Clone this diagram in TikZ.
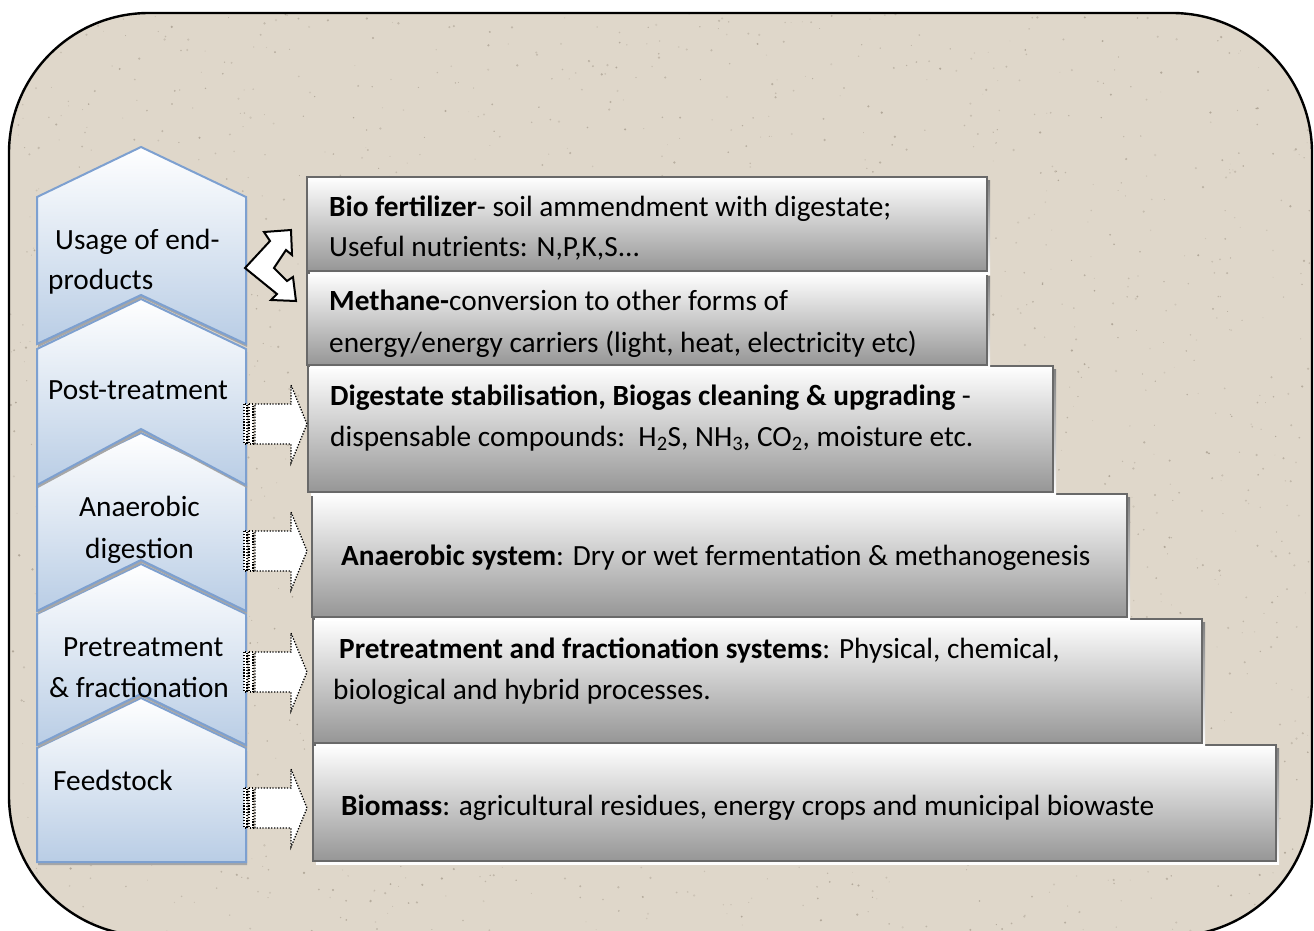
\documentclass[tikz,border=0pt]{standalone}
\usepackage{fontspec}
\setmainfont{Carlito}
\definecolor{stone}{RGB}{223,215,202}
\definecolor{speck}{RGB}{130,118,102}
\definecolor{chevline}{RGB}{125,160,208}
\definecolor{chevblue}{RGB}{185,205,229}
\definecolor{boxgray}{RGB}{150,150,150}
\definecolor{boxline}{RGB}{105,105,105}
\definecolor{shade}{RGB}{175,175,175}
\tikzset{
  txt/.style={inner sep=0pt, anchor=base west, font=\fontsize{29.3}{41}\selectfont},
  chevron/.style={draw=chevline, line width=2pt, line join=miter, top color=white, bottom color=chevblue},
  chevshadow/.style={fill=black!35},
  stepbox/.style={draw=boxline, line width=2.2pt, top color=white, bottom color=boxgray},
  arrowdots/.style={draw=black, fill=white, line width=1.3pt, dash pattern=on 1.3pt off 1.6pt},
  stripedarrow/.pic={
    \path[arrowdots] (0,-20) rectangle (3,20);
    \path[arrowdots] (5,-20) rectangle (9,20);
    \path[arrowdots] (11,-20) -- (47,-20) -- (47,-39) -- (63,0) -- (47,39) -- (47,20) -- (11,20) -- cycle;
  }
}
% grey step box with its drop shadow: {x1}{y1}{x2}{y2}
\newcommand\stepgraybox[4]{%
  \fill[shade] (#1+3,#2+3) rectangle (#3+3,#4+3);
  \path[stepbox] (#1,#2) rectangle (#3,#4);}
% chevron: {apex y}{bottom y}{notch apex y}
\newcommand\chevronshape[3]{%
  \fill[chevshadow] (38,#1+53) -- (142,#1+3) -- (247,#1+53) -- (247,#2+3) -- (142,#3+3) -- (38,#2+3) -- cycle;
  \path[chevron] (37,#1+50) -- (141,#1) -- (246,#1+50) -- (246,#2) -- (141,#3) -- (37,#2) -- cycle;}
\begin{document}
\begin{tikzpicture}[x=1pt,y=-1pt]
\useasboundingbox (0,0) rectangle (1314,931);
\clip (0,0) rectangle (1314,931);
\fill[white] (0,0) rectangle (1314,931);

% stone panel
\fill[stone, rounded corners=140pt] (9,13) rectangle (1312,936);
\begin{scope}
  \clip[rounded corners=140pt] (9,13) rectangle (1312,936);
  \pgfmathsetseed{4217}
  \foreach \i in {1,...,2200}{
    \pgfmathsetmacro\px{10+rnd*1300}
    \pgfmathsetmacro\py{14+rnd*920}
    \pgfmathsetmacro\pr{0.4+rnd*0.9}
    \pgfmathsetmacro\po{0.15+rnd*0.35}
    \fill[speck, opacity=\po] (\px,\py) circle (\pr);
  }
\end{scope}
\draw[black, line width=2.4pt, rounded corners=140pt] (9,13) rectangle (1312,936);

% step boxes, lowest first
\stepgraybox{313}{745}{1276}{861}
\stepgraybox{313}{619}{1202}{743}
\stepgraybox{312}{494}{1127}{617}
\stepgraybox{308}{366}{1053}{492}
\stepgraybox{307}{273}{987}{365}
\stepgraybox{307}{177}{987}{271}

% process chevrons, lowest first
\fill[chevshadow] (38,751) -- (142,701) -- (247,751) -- (247,865) -- (38,865) -- cycle;
\path[chevron] (37,748) -- (141,698) -- (246,748) -- (246,862) -- (37,862) -- cycle;
\chevronshape{564}{745}{694}
\chevronshape{433}{611}{560}
\chevronshape{299}{485}{429}
\chevronshape{147}{344}{295}

% connectors from the stages to the step boxes
\coordinate (a1) at (244,424);
\coordinate (a2) at (244,551);
\coordinate (a3) at (244,672);
\coordinate (a4) at (244,808);
\pic at (a1) {stripedarrow};
\pic at (a2) {stripedarrow};
\pic at (a3) {stripedarrow};
\pic at (a4) {stripedarrow};

\path[draw=black, fill=white, line width=2pt, line join=miter]
  (245,268) -- (270,241) -- (264,232) -- (291,230) -- (292,255) -- (286,250)
  -- (274,268) -- (287,281) -- (293,277) -- (296,301) -- (271,300) -- (277,294) -- cycle;

% stage labels
\node[txt] (s1a) at (55,249) {Usage of end-};
\node[txt] (s1b) at (48,289) {products};
\node[txt] (s2) at (48,399) {Post-treatment};
\node[txt] (s3a) at (79,516) {Anaerobic};
\node[txt] (s3b) at (85,558) {digestion};
\node[txt] (s4a) at (63,656) {Pretreatment};
\node[txt] (s4b) at (49,697) {\& fractionation};
\node[txt] (s5) at (53,790) {Feedstock};

% box texts
\node[txt] (b1a) at (329,216) {\textbf{Bio fertilizer}- soil ammendment with digestate;};
\node[txt] (b1b) at (329,256) {Useful nutrients: N,P,K,S...};
\node[txt] (b2a) at (329,310) {\textbf{Methane-}conversion to other forms of};
\node[txt] (b2b) at (329,352) {energy/energy carriers (light, heat, electricity etc)};
\node[txt] (b3a) at (330,405) {\textbf{Digestate stabilisation, Biogas cleaning \& upgrading} -};
\node[txt] (b3b) at (330,446) {dispensable compounds:\ \ H\textsubscript{2}S, NH\textsubscript{3}, CO\textsubscript{2}, moisture etc.};
\node[txt] (b4) at (341,565) {\textbf{Anaerobic system}: Dry or wet fermentation \& methanogenesis};
\node[txt] (b5a) at (339,658) {\textbf{Pretreatment and fractionation systems}: Physical, chemical,};
\node[txt] (b5b) at (333,699) {biological and hybrid processes.};
\node[txt] (b6) at (341,815) {\textbf{Biomass}: agricultural residues, energy crops and municipal biowaste};
\end{tikzpicture}
\end{document}
